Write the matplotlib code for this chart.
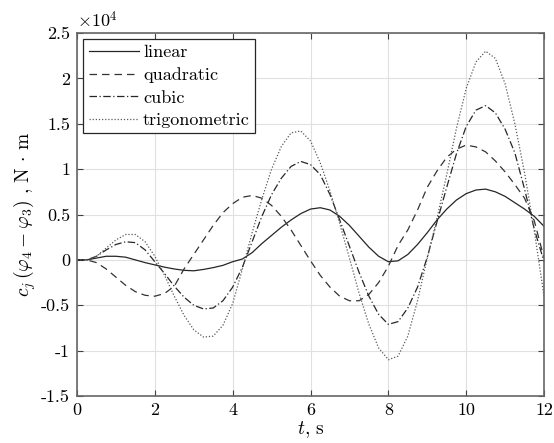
import numpy as np
import matplotlib
matplotlib.use('Agg')
import matplotlib.pyplot as plt

plt.rcParams['font.family'] = 'serif'
plt.rcParams['font.serif'] = ['cmr10', 'DejaVu Serif']
plt.rcParams['mathtext.fontset'] = 'cm'
plt.rcParams['axes.unicode_minus'] = False

# time, s
t = [0, 0.25, 0.5, 0.75, 1.0, 1.25, 1.5, 1.75, 2.0, 2.25, 2.5, 2.75,
     3.0, 3.25, 3.5, 3.75, 4.0, 4.25, 4.5, 4.75, 5.0, 5.25, 5.5, 5.75,
     6.0, 6.25, 6.5, 6.75, 7.0, 7.25, 7.5, 7.75, 8.0, 8.25, 8.5, 8.75,
     9.0, 9.25, 9.5, 9.75, 10.0, 10.25, 10.5, 10.75, 11.0, 11.25, 11.5, 11.75, 12.0]

# values in units of 1e4 N*m
linear = [0, 0, 0.02, 0.04, 0.04, 0.03, 0.0, -0.03, -0.055, -0.08, -0.10, -0.115,
          -0.12, -0.105, -0.085, -0.06, -0.02, 0.01, 0.08, 0.18, 0.27, 0.36, 0.44, 0.51,
          0.56, 0.575, 0.55, 0.48, 0.38, 0.26, 0.14, 0.04, -0.02, -0.01, 0.06, 0.17,
          0.30, 0.44, 0.56, 0.66, 0.73, 0.77, 0.78, 0.75, 0.70, 0.63, 0.56, 0.48, 0.37]
quadratic = [0, 0, -0.03, -0.10, -0.19, -0.28, -0.35, -0.39, -0.40, -0.37, -0.29, -0.10,
             0.06, 0.22, 0.38, 0.52, 0.62, 0.69, 0.71, 0.68, 0.60, 0.48, 0.33, 0.16,
             -0.01, -0.17, -0.30, -0.40, -0.45, -0.45, -0.38, -0.25, -0.07, 0.16, 0.33, 0.55,
             0.80, 0.98, 1.13, 1.22, 1.265, 1.245, 1.19, 1.09, 0.97, 0.83, 0.68, 0.43, 0.02]
cubic = [0, 0, 0.04, 0.11, 0.17, 0.20, 0.19, 0.11, -0.02, -0.15, -0.29, -0.41,
         -0.50, -0.54, -0.53, -0.45, -0.30, -0.08, 0.20, 0.48, 0.72, 0.90, 1.03, 1.085,
         1.05, 0.94, 0.72, 0.44, 0.15, -0.14, -0.40, -0.60, -0.71, -0.68, -0.53, -0.30,
         0.03, 0.42, 0.80, 1.17, 1.47, 1.65, 1.70, 1.62, 1.44, 1.18, 0.78, 0.34, -0.02]
trigonometric = [0, 0, 0.04, 0.13, 0.22, 0.28, 0.28, 0.20, 0.04, -0.17, -0.40, -0.61,
                 -0.77, -0.85, -0.84, -0.72, -0.48, -0.10, 0.30, 0.67, 1.00, 1.25, 1.40, 1.42,
                 1.31, 1.07, 0.76, 0.40, 0.02, -0.37, -0.71, -0.97, -1.10, -1.06, -0.84, -0.45,
                 0.02, 0.46, 0.94, 1.45, 1.89, 2.18, 2.30, 2.22, 1.94, 1.50, 0.96, 0.32, -0.40]

xticks = [0, 2, 4, 6, 8, 10, 12]
yticks = [-1.5, -1, -0.5, 0, 0.5, 1, 1.5, 2, 2.5]
ytick_labels = ['-1.5', '-1', '-0.5', '0', '0.5', '1', '1.5', '2', '2.5']

fig = plt.figure(figsize=(5.54, 4.43), dpi=100)
ax = fig.add_axes([0.139, 0.106, 0.843, 0.8195])

ax.plot(t, linear, color='0.15', lw=0.9, ls='-', label='linear')
ax.plot(t, quadratic, color='0.2', lw=0.9, ls=(0, (6, 4)), label='quadratic')
ax.plot(t, cubic, color='0.15', lw=0.9, ls=(0, (6, 2, 1, 2)), label='cubic')
ax.plot(t, trigonometric, color='0.35', lw=0.9, ls=(0, (1, 1.5)), label='trigonometric')

ax.set_xlim(0, 12)
ax.set_ylim(-1.5, 2.5)
ax.set_xticks(xticks)
ax.set_xticklabels([str(v) for v in xticks])
ax.set_yticks(yticks)
ax.set_yticklabels(ytick_labels)
ax.tick_params(direction='in', top=True, right=True, labelsize=13, length=4,
               color='0.25', pad=5)
ax.grid(True, color='0.88', lw=0.8)
ax.set_axisbelow(True)
for s in ax.spines.values():
    s.set_color('0.4')
    s.set_linewidth(1.2)

ax.set_xlabel(r'$t$, s', fontsize=14, labelpad=1)
ax.set_ylabel(r'$c_j\,(\varphi_4 - \varphi_3)$ , N$\,\cdot\,$m', fontsize=14, labelpad=2)
ax.text(0.0, 1.008, r'$\times10^4$', transform=ax.transAxes, fontsize=13,
        ha='left', va='bottom')

leg = ax.legend(loc='upper left', fontsize=13, handlelength=2.8, handletextpad=0.2,
                borderpad=0.3, labelspacing=0.38, borderaxespad=0.35,
                fancybox=False, framealpha=1, edgecolor='0.15')
leg.get_frame().set_linewidth(0.9)

fig.savefig('out.png', dpi=100)
